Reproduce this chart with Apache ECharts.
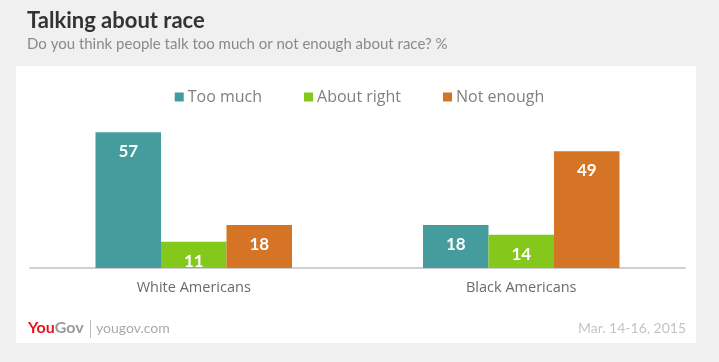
<!DOCTYPE html>
<html><head><meta charset="utf-8">
<script src="https://cdn.jsdelivr.net/npm/echarts@6/dist/echarts.min.js"></script>
<style>html,body{margin:0;padding:0;background:#eff0ef;}#c{width:719px;height:362px;}</style>
</head><body><div id="c"></div>
<script>
const categories = ['White Americans', 'Black Americans'];
const seriesNames = ['Too much', 'About right', 'Not enough'];
const tooMuch = [57, 18];
const aboutRight = [11, 14];
const notEnough = [18, 49];
const colors = ['#449c9d', '#84c81b', '#d57424'];

const FONT = 'Lato, "Open Sans", sans-serif';
const FONT2 = '"Open Sans", Lato, sans-serif';
const chart = echarts.init(document.getElementById('c'));
const values = [tooMuch, aboutRight, notEnough];
chart.setOption({
  backgroundColor: '#eff0ef',
  animation: false,
  graphic: [
    {type: 'rect', left: 16, top: 66, shape: {width: 680, height: 277}, style: {fill: '#ffffff'}, z: -10},
    {type: 'text', left: 27, top: 10, style: {text: 'Talking about race', font: 'bold 22px ' + FONT, fill: '#333333'}},
    {type: 'text', left: 27, top: 37, style: {text: 'Do you think people talk too much or not enough about race? %', font: '15px ' + FONT, fill: '#8a8a8a'}},
    {type: 'text', left: 28, top: 320, style: {
      text: '{a|You}{b|Gov}',
      rich: {
        a: {font: 'bold 16px ' + FONT, fill: '#e5141c'},
        b: {font: 'bold 16px ' + FONT, fill: '#9a9a9a'}
      }
    }},
    {type: 'rect', left: 90, top: 320, shape: {width: 1, height: 18}, style: {fill: '#bbbbbb'}},
    {type: 'text', left: 96, top: 321, style: {text: 'yougov.com', font: '14px ' + FONT, fill: '#aaaaaa'}},
    {type: 'text', right: 33, top: 321, style: {text: 'Mar. 14-16, 2015', font: '14px ' + FONT, fill: '#c4c4c4'}}
  ],
  legend: {
    top: 84, left: 'center',
    itemWidth: 9, itemHeight: 9, itemGap: 42,
    icon: 'rect',
    textStyle: {fontFamily: FONT2, fontSize: 16, color: '#808080', padding: [0, 0, 0, -1]},
    data: seriesNames
  },
  grid: {left: 30, right: 34, top: 125, bottom: 94},
  xAxis: {
    type: 'category', data: categories,
    axisLine: {lineStyle: {color: '#d0d0d0', width: 2}},
    axisTick: {show: false},
    axisLabel: {fontFamily: FONT2, fontSize: 14.5, color: '#6a6a6a', margin: 12}
  },
  yAxis: {type: 'value', min: 0, max: 60, show: false, splitLine: {show: false}},
  series: seriesNames.map((n, i) => ({
    name: n, type: 'bar', data: values[i],
    barGap: '0%', barCategoryGap: '40%',
    itemStyle: {color: colors[i]},
    label: {show: true, position: 'insideTop', distance: 11, color: '#ffffff', fontFamily: FONT, fontWeight: 'bold', fontSize: 17}
  }))
});
</script></body></html>
